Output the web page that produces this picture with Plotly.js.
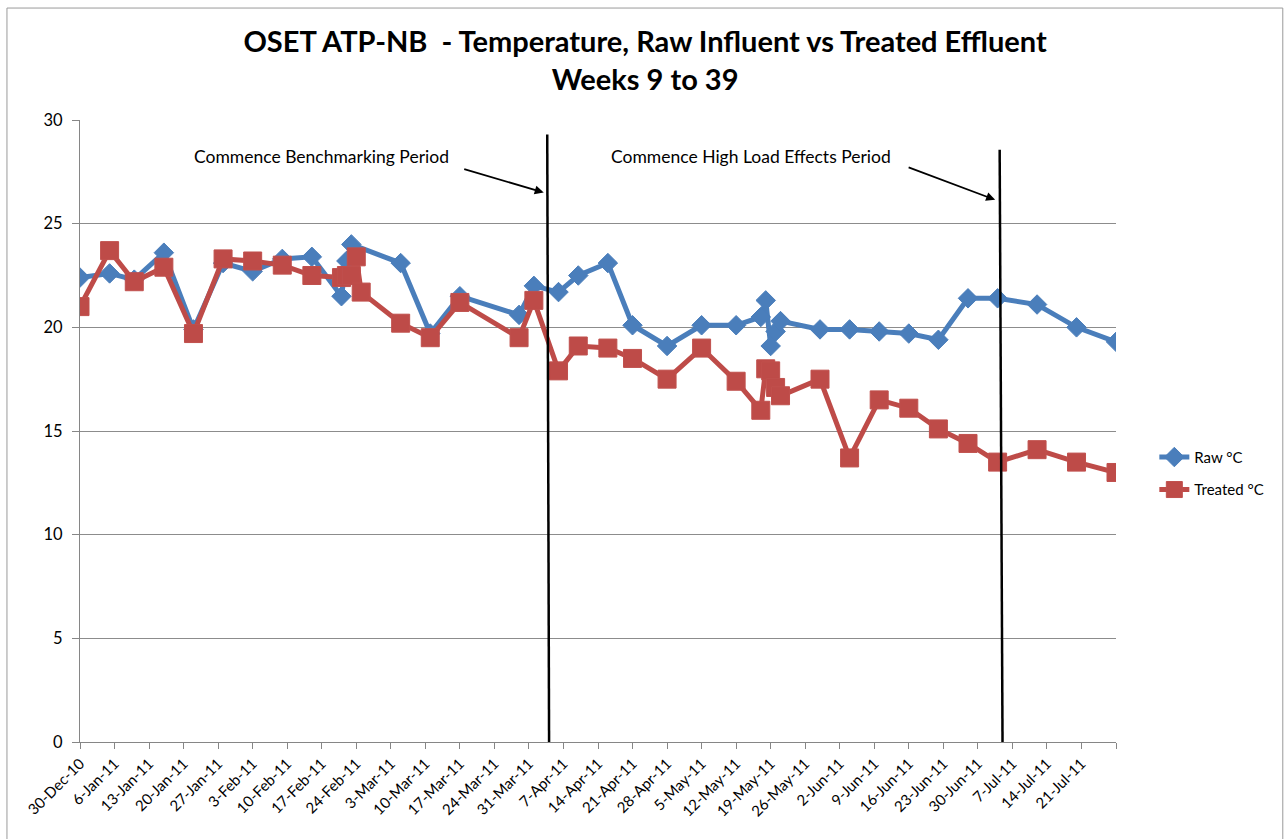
<!DOCTYPE html>
<html>
<head>
<meta charset="utf-8">
<script src="https://cdn.plot.ly/plotly-3.0.1.min.js"></script>
<style>
  html, body { margin: 0; padding: 0; background: #fff; }
  #chart { width: 1285px; height: 839px; }
</style>
</head>
<body>
<div id="chart"></div>
<script>
// ---- data ----
const dates = [
  '2010-12-30','2011-01-05','2011-01-10','2011-01-16','2011-01-22','2011-01-28',
  '2011-02-03','2011-02-09','2011-02-15','2011-02-21','2011-02-22','2011-02-23',
  '2011-02-24','2011-02-25','2011-03-05','2011-03-11','2011-03-17','2011-03-29',
  '2011-04-01','2011-04-06','2011-04-10','2011-04-16','2011-04-21','2011-04-28',
  '2011-05-05','2011-05-12','2011-05-17','2011-05-18','2011-05-19','2011-05-20',
  '2011-05-21','2011-05-29','2011-06-04','2011-06-10','2011-06-16','2011-06-22',
  '2011-06-28','2011-07-04','2011-07-12','2011-07-20','2011-07-28'
];
const rawC = [
  22.4, 22.6, 22.3, 23.6, 19.9, 23.1,
  22.7, 23.3, 23.4, 21.5, 23.2, 24.0,
  null, null, 23.1, 19.7, 21.5, 20.6,
  22.0, 21.7, 22.5, 23.1, 20.1, 19.1,
  20.1, 20.1, 20.5, 21.3, 19.1, 19.8,
  20.3, 19.9, 19.9, 19.8, 19.7, 19.4,
  21.4, 21.4, 21.1, 20.0, 19.3
];
const treatedC = [
  21.0, 23.7, 22.2, 22.9, 19.7, 23.3,
  23.2, 23.0, 22.5, 22.4, 22.5, 22.5,
  23.4, 21.7, 20.2, 19.5, 21.2, 19.5,
  21.3, 17.9, 19.1, 19.0, 18.5, 17.5,
  19.0, 17.4, 16.0, 18.0, 17.9, 17.1,
  16.7, 17.5, 13.7, 16.5, 16.1, 15.1,
  14.4, 13.5, 14.1, 13.5, 13.0
];
const tickDates = [
  '2010-12-30','2011-01-06','2011-01-13','2011-01-20','2011-01-27','2011-02-03',
  '2011-02-10','2011-02-17','2011-02-24','2011-03-03','2011-03-10','2011-03-17',
  '2011-03-24','2011-03-31','2011-04-07','2011-04-14','2011-04-21','2011-04-28',
  '2011-05-05','2011-05-12','2011-05-19','2011-05-26','2011-06-02','2011-06-09',
  '2011-06-16','2011-06-23','2011-06-30','2011-07-07','2011-07-14','2011-07-21',
  '2011-07-28'
];
const tickLabels = [
  '30-Dec-10','6-Jan-11','13-Jan-11','20-Jan-11','27-Jan-11','3-Feb-11',
  '10-Feb-11','17-Feb-11','24-Feb-11','3-Mar-11','10-Mar-11','17-Mar-11',
  '24-Mar-11','31-Mar-11','7-Apr-11','14-Apr-11','21-Apr-11','28-Apr-11',
  '5-May-11','12-May-11','19-May-11','26-May-11','2-Jun-11','9-Jun-11',
  '16-Jun-11','23-Jun-11','30-Jun-11','7-Jul-11','14-Jul-11','21-Jul-11',
  ''
];
const seriesNames = ['Raw °C', 'Treated °C'];
const periodLabels = ['Commence Benchmarking Period', 'Commence High Load Effects Period'];

// ---- styling ----
const FONT = 'Lato, "Open Sans", sans-serif';
const BLUE = '#4a7ebb';
const RED = '#be4b48';

const traces = [
  {
    x: dates, y: rawC, name: seriesNames[0], type: 'scatter', mode: 'lines+markers',
    connectgaps: true, legendgroup: 'raw',
    line: { color: BLUE, width: 5 },
    marker: { symbol: 'diamond', size: 15, color: BLUE, line: { color: BLUE, width: 1 } }
  },
  {
    x: dates, y: treatedC, name: seriesNames[1], type: 'scatter', mode: 'lines+markers',
    connectgaps: true, legendgroup: 'treated',
    line: { color: RED, width: 5 },
    marker: { symbol: 'square', size: 18, color: RED, line: { color: '#c0504d', width: 1 } }
  }
];

const layout = {
  width: 1285, height: 839,
  paper_bgcolor: '#fff', plot_bgcolor: '#fff',
  margin: { l: 80, r: 169, t: 120, b: 97 },
  font: { family: FONT, size: 15, color: '#000' },
  title: {
    text: '<b>OSET ATP-NB  - Temperature, Raw Influent vs Treated Effluent<br>Weeks 9 to 39</b>',
    font: { family: FONT, size: 29, color: '#000' },
    x: 0.502, xanchor: 'center', y: 0.938, yanchor: 'middle'
  },
  showlegend: true,
  legend: {
    x: 1.037, xanchor: 'left', y: 0.432, yanchor: 'middle',
    font: { family: FONT, size: 15, color: '#000' },
    bgcolor: 'rgba(0,0,0,0)', tracegroupgap: 10, itemwidth: 30
  },
  xaxis: {
    type: 'date',
    range: ['2010-12-30', '2011-07-28'],
    tickmode: 'array', tickvals: tickDates, ticktext: tickLabels,
    tickangle: -45,
    tickfont: { family: FONT, size: 15, color: '#000' },
    showgrid: false, zeroline: false,
    showline: true, linecolor: '#868686', linewidth: 1,
    ticks: 'outside', ticklen: 6, tickcolor: '#868686',
    fixedrange: true
  },
  yaxis: {
    range: [0, 30], tickmode: 'linear', tick0: 0, dtick: 5,
    tickfont: { family: FONT, size: 16.5, color: '#000' },
    ticklabelstandoff: 6,
    showgrid: true, gridcolor: '#8c8c8c', gridwidth: 1,
    zeroline: false,
    showline: true, linecolor: '#868686', linewidth: 1,
    ticks: 'outside', ticklen: 7, tickcolor: '#868686',
    fixedrange: true
  },
  shapes: [
    { type: 'line', xref: 'x', yref: 'y', x0: '2011-04-03 17:00', x1: '2011-04-04 02:00', y0: 29.3, y1: 0,
      line: { color: '#000', width: 2.5 } },
    { type: 'line', xref: 'x', yref: 'y', x0: '2011-07-04 10:00', x1: '2011-07-05 00:00', y0: 28.56, y1: 0,
      line: { color: '#000', width: 2.5 } },
    { type: 'rect', xref: 'paper', yref: 'paper', x0: -0.0705, x1: 1.161, y0: -0.2, y1: 1.18,
      line: { color: '#9a9a9a', width: 1 }, fillcolor: 'rgba(0,0,0,0)', layer: 'below' }
  ],
  annotations: [
    { xref: 'x', yref: 'y', x: '2011-02-17', y: 28.22, text: periodLabels[0], showarrow: false,
      font: { family: FONT, size: 17.5, color: '#000' } },
    { xref: 'x', yref: 'y', x: '2011-05-15', y: 28.22, text: periodLabels[1], showarrow: false,
      font: { family: FONT, size: 17.5, color: '#000' } },
    { xref: 'x', yref: 'y', x: '2011-04-03', y: 26.5, text: '', showarrow: true,
      ax: -81, ay: -24, arrowhead: 2, arrowsize: 1, arrowwidth: 1.8, arrowcolor: '#000' },
    { xref: 'x', yref: 'y', x: '2011-07-03 12:00', y: 26.15, text: '', showarrow: true,
      ax: -88, ay: -33, arrowhead: 2, arrowsize: 1, arrowwidth: 1.8, arrowcolor: '#000' }
  ]
};

Plotly.newPlot('chart', traces, layout, { displayModeBar: false, staticPlot: true });
</script>
</body>
</html>
